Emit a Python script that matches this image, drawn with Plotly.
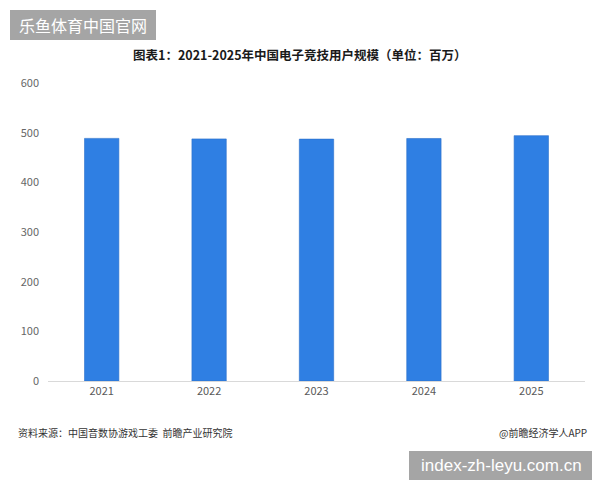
import plotly.graph_objects as go

years = ["2021", "2022", "2023", "2024", "2025"]
users = [488.5, 487.4, 487.0, 488.3, 494.0]
y_ticks = [0, 100, 200, 300, 400, 500, 600]

title_text = "图表1：2021-2025年中国电子竞技用户规模（单位：百万）"
source_text = "资料来源：中国音数协游戏工委  前瞻产业研究院"
credit_text = "@前瞻经济学人APP"
wm_top = "乐鱼体育中国官网"
wm_bottom = "index-zh-leyu.com.cn"

FONT = "Noto Sans CJK SC"

fig = go.Figure()
fig.add_trace(go.Bar(
    x=years, y=users,
    marker=dict(color="#2f7fe3", line=dict(color="#2a6fc9", width=0.6)),
    hoverinfo="x+y",
))

fig.update_layout(
    width=600, height=480,
    margin=dict(l=48, r=15, t=83, b=99),
    paper_bgcolor="white", plot_bgcolor="white",
    bargap=0.68,
    showlegend=False,
    font=dict(family=FONT, color="#595959", size=11),
    xaxis=dict(
        showgrid=False, showline=True, linecolor="#d9d9d9", linewidth=1,
        ticks="", tickfont=dict(size=11, color="#595959"),
        fixedrange=True,
    ),
    yaxis=dict(
        range=[0, 600], tickvals=y_ticks, showgrid=False, zeroline=False,
        showline=False, ticks="", tickfont=dict(size=11, color="#666666"),
        ticklabelstandoff=8,
    ),
)

plot_h = 480 - 83 - 99
def py(pixel_y):
    return (480 - 99 - pixel_y) / plot_h
plot_w = 600 - 48 - 15
def px(pixel_x):
    return (pixel_x - 48) / plot_w

fig.add_annotation(text="<b>" + title_text + "</b>", x=px(300), y=py(55), xref="paper", yref="paper",
                   showarrow=False, xanchor="center", yanchor="middle",
                   font=dict(size=12.5, color="#1a1a1a", family=FONT))
fig.add_annotation(text=source_text, x=px(16), y=py(432), xref="paper", yref="paper",
                   showarrow=False, xanchor="left", yanchor="middle",
                   font=dict(size=10, color="#333333", family=FONT))
fig.add_annotation(text=credit_text, x=px(589), y=py(432), xref="paper", yref="paper",
                   showarrow=False, xanchor="right", yanchor="middle",
                   font=dict(size=10, color="#333333", family=FONT))

# Watermark boxes
fig.add_shape(type="rect", xref="paper", yref="paper",
              x0=px(10), x1=px(156), y0=py(40), y1=py(10),
              fillcolor="#a5a5a5", line=dict(width=0), layer="above")
fig.add_annotation(text=wm_top, x=px(83), y=py(25), xref="paper", yref="paper",
                   showarrow=False, xanchor="center", yanchor="middle",
                   font=dict(size=16, color="white", family=FONT))
fig.add_shape(type="rect", xref="paper", yref="paper",
              x0=px(409), x1=px(592), y0=py(482), y1=py(451),
              fillcolor="#a5a5a5", line=dict(width=0), layer="above")
fig.add_annotation(text=wm_bottom, x=px(501), y=py(466), xref="paper", yref="paper",
                   showarrow=False, xanchor="center", yanchor="middle",
                   font=dict(size=17, color="white", family="Liberation Sans"))

fig.write_html("out.html")
